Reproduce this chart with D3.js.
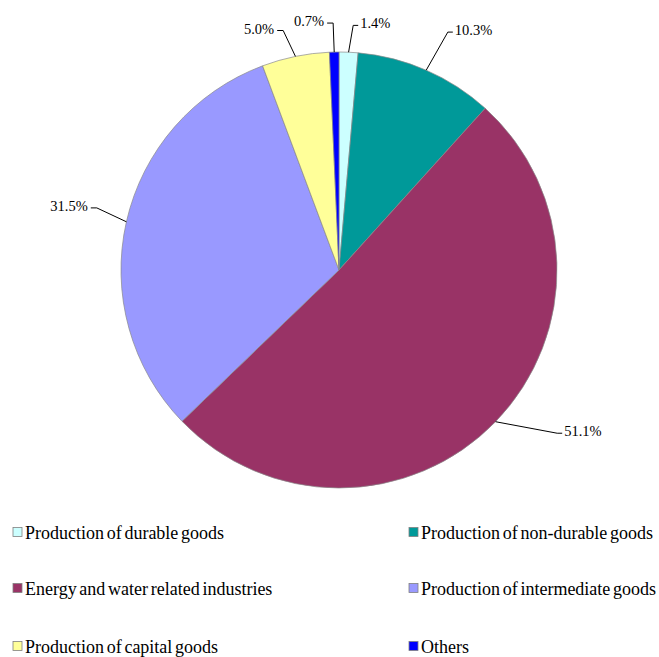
<!DOCTYPE html>
<html>
<head>
<meta charset="utf-8">
<script src="https://cdn.jsdelivr.net/npm/d3@7"></script>
<style>
  body { margin: 0; background: #fff; }
</style>
</head>
<body>
<script>
const categories = [
    "Production of durable goods",
    "Production of non-durable goods",
    "Energy and water related industries",
    "Production of intermediate goods",
    "Production of capital goods",
    "Others"
];
const shares = [1.4, 10.3, 51.1, 31.5, 5.0, 0.7];
const colors = ["#CCFFFF", "#009999", "#993366", "#9999FF", "#FFFF99", "#0000FF"];

// label placement: [angle shift in degrees, radius factor]
const labelPlacement = [[0.8, 1.124], [1.0, 1.20], [-7.3, 1.25], [1.6, 1.147], [-1.6, 1.128], [-0.1, 1.133]];

const w = 659, h = 657;
const cx = 339, cy = 270, radius = 218;
const serif = "Liberation Serif";

const svg = d3.select("body")
    .append("svg")
    .attr("width", w)
    .attr("height", h);

const pie = d3.pie().sort(null).value(function (d) { return d; });
const arcs = pie(shares);

const arc = d3.arc().innerRadius(0).outerRadius(radius);

const g = svg.append("g")
    .attr("transform", "translate(" + cx + "," + cy + ")");

g.selectAll("path")
    .data(arcs)
    .enter()
    .append("path")
    .attr("d", arc)
    .attr("fill", function (d, i) { return colors[i]; })
    .attr("stroke", "#8a8a8a")
    .attr("stroke-width", 0.7);

// leader lines + labels
function polar(a, r) {
    return [Math.sin(a) * r, -Math.cos(a) * r];
}

const labels = g.selectAll("g.label")
    .data(arcs)
    .enter()
    .append("g")
    .attr("class", "label");

labels.each(function (d, i) {
    const mid = (d.startAngle + d.endAngle) / 2;
    const lp = labelPlacement[i];
    const a1 = mid + lp[0] * Math.PI / 180;
    const p0 = polar(mid, radius);
    const p1 = polar(a1, radius * lp[1]);
    const right = Math.sin(a1) >= 0;
    const p2 = [p1[0] + (right ? 5 : -6), p1[1]];
    const sel = d3.select(this);
    sel.append("polyline")
        .attr("points", [p0, p1, p2].map(function (p) { return p.join(","); }).join(" "))
        .attr("fill", "none")
        .attr("stroke", "#000")
        .attr("stroke-width", 1);
    sel.append("text")
        .attr("x", p2[0] + (right ? 2 : -3))
        .attr("y", p2[1] + 3)
        .attr("text-anchor", right ? "start" : "end")
        .style("font-family", serif)
        .style("font-size", "14.5px")
        .text(d3.format(".1f")(d.data) + "%");
});

// legend
const legendX = d3.scaleOrdinal().domain([0, 1]).range([13, 409]);
const legendY = d3.scaleOrdinal().domain([0, 1, 2]).range([532, 588, 646]);

const legend = svg.selectAll("g.legend")
    .data(categories)
    .enter()
    .append("g")
    .attr("class", "legend")
    .attr("transform", function (d, i) {
        return "translate(" + legendX(i % 2) + "," + legendY(Math.floor(i / 2)) + ")";
    });

legend.append("rect")
    .attr("x", 0)
    .attr("y", -4.5)
    .attr("width", 9)
    .attr("height", 9)
    .attr("fill", function (d, i) { return colors[i]; })
    .attr("stroke", "#808080")
    .attr("stroke-width", 0.8);

legend.append("text")
    .attr("x", 12)
    .attr("y", 7)
    .style("font-family", serif)
    .style("font-size", "18px")
    .style("word-spacing", "-1.8px")
    .text(function (d) { return d; });
</script>
</body>
</html>
